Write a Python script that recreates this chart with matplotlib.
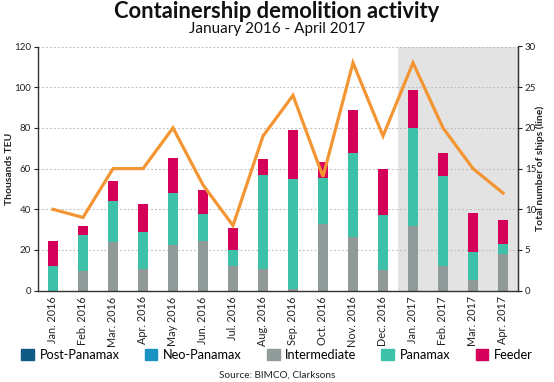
import matplotlib
matplotlib.use("Agg")
import matplotlib.pyplot as plt
import numpy as np
from matplotlib.patches import Patch

plt.rcParams['font.family'] = ['Lato', 'DejaVu Sans']

months = ["Jan. 2016", "Feb. 2016", "Mar. 2016", "Apr. 2016", "May 2016", "Jun. 2016",
          "Jul. 2016", "Aug. 2016", "Sep. 2016", "Oct. 2016", "Nov. 2016", "Dec. 2016",
          "Jan. 2017", "Feb. 2017", "Mar. 2017", "Apr. 2017"]
post_panamax = [0] * 16
neo_panamax = [0] * 16
intermediate = [0, 9.8, 23.9, 10.5, 22.5, 24.3, 12.3, 10.5, 0.8, 33.0, 26.2, 10.2, 32.0, 12.1, 5.2, 18.2]
panamax = [12.3, 17.6, 20.0, 18.5, 25.5, 13.2, 7.5, 46.2, 54.0, 22.6, 41.5, 26.8, 47.8, 44.1, 13.8, 4.8]
feeder = [12.0, 4.6, 10.2, 13.5, 17.4, 12.2, 10.9, 7.9, 24.2, 7.7, 21.0, 22.7, 18.6, 11.5, 19.4, 11.6]
ships = [10, 9, 15, 15, 20, 13, 8, 19, 24, 14, 28, 19, 28, 20, 15, 12]

c_post = "#0d5a82"
c_neo = "#1a93c3"
c_inter = "#8f9a99"
c_pana = "#3dc1a9"
c_feed = "#d4005a"
c_line = "#f39533"
txt = "#222222"

fig = plt.figure(figsize=(5.54, 3.82), dpi=100)
ax = fig.add_axes([38/554, 1-290.7/382, (518-38)/554, (290.7-46.5)/382])
x = np.arange(len(months))
w = 0.34

ax.axvspan(11.5, 15.5, color="#e3e3e3", zorder=0, lw=0)
for yv in range(20, 121, 20):
    ax.axhline(yv, color="#bbbbbb", lw=0.8, ls=(0, (1.5, 2)), zorder=0.5)

inter = np.array(intermediate, float)
pana = np.array(panamax, float)
feed = np.array(feeder, float)
ax.bar(x, inter, w, color=c_inter, zorder=2)
ax.bar(x, pana, w, bottom=inter, color=c_pana, zorder=2)
ax.bar(x, feed, w, bottom=inter + pana, color=c_feed, zorder=2)

ax.set_xlim(-0.5, 15.5)
ax.set_ylim(0, 120)
ax.set_yticks(range(0, 121, 20))
ax.set_xticks(x)
ax.set_xticklabels(months, rotation=90, fontsize=7.8, color=txt)
ax.tick_params(axis='y', labelsize=7, colors=txt, length=3, width=0.8, pad=2)
ax.tick_params(axis='x', length=0, pad=4)
ax.spines["top"].set_visible(False)
for s in ["left", "bottom", "right"]:
    ax.spines[s].set_color("#333333")
    ax.spines[s].set_linewidth(1.0)
ax.set_ylabel("Thousands TEU", fontsize=7.5, fontweight="bold", color=txt)
ax.yaxis.set_label_coords(-0.05, 0.5)

ax2 = ax.twinx()
ax2.plot(x, ships, color=c_line, lw=2.3, zorder=5, solid_joinstyle="miter")
ax2.set_ylim(0, 30)
ax2.set_yticks(range(0, 31, 5))
ax2.tick_params(axis='y', labelsize=7, colors=txt, length=3, width=0.8, pad=2)
ax2.spines["top"].set_visible(False)
ax2.spines["right"].set_color("#333333")
ax2.spines["left"].set_visible(False)
ax2.spines["bottom"].set_visible(False)
ax2.set_ylabel("Total number of ships (line)", fontsize=7.5, fontweight="bold", color=txt)
ax2.yaxis.set_label_coords(1.036, 0.5)

fig.text(0.5, 1-11.5/382, "Containership demolition activity", ha="center", va="center",
         fontsize=15.8, fontweight="bold", color="#111111")
fig.text(0.5, 1-28.5/382, "January 2016 - April 2017", ha="center", va="center",
         fontsize=11, color="#111111")

handles = [Patch(color=c_post), Patch(color=c_neo), Patch(color=c_inter), Patch(color=c_pana), Patch(color=c_feed)]
labels = ["Post-Panamax", "Neo-Panamax", "Intermediate", "Panamax", "Feeder"]
fig.legend(handles, labels, loc="center", bbox_to_anchor=(0.5, 1-355/382), ncol=5, frameon=False,
           fontsize=9.2, handlelength=1.0, handleheight=1.0, handletextpad=0.45, columnspacing=1.95,
           borderpad=0, borderaxespad=0)
fig.text(0.5, 1-375/382, "Source: BIMCO, Clarksons", ha="center", va="center", fontsize=7.2, color=txt)

fig.savefig("out.png", dpi=100)
